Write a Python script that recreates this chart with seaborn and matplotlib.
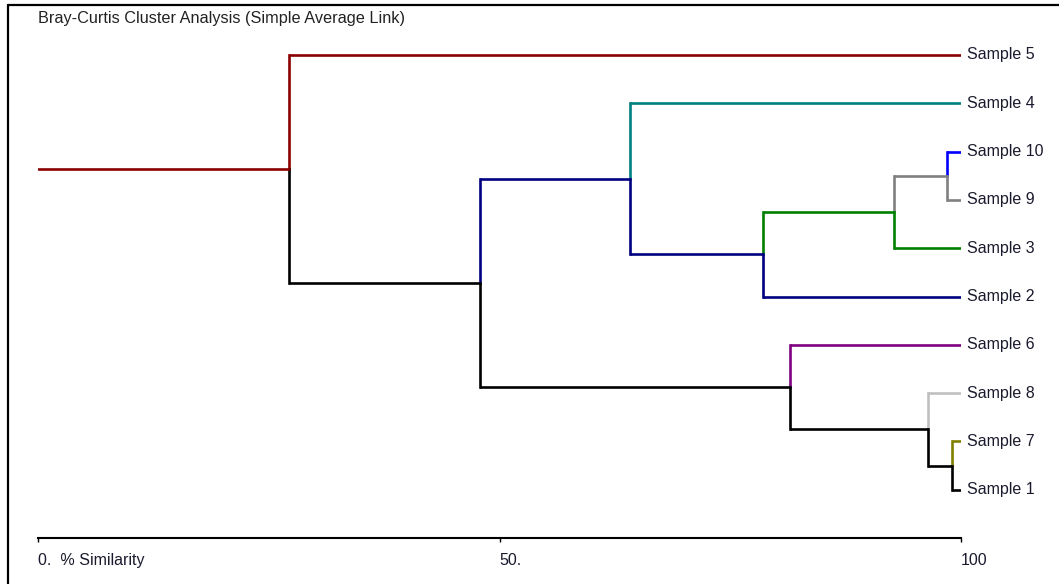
import matplotlib.pyplot as plt
from matplotlib.lines import Line2D
import seaborn as sns

# leaves, top to bottom
leaves = ['Sample 5', 'Sample 4', 'Sample 10', 'Sample 9', 'Sample 3',
          'Sample 2', 'Sample 6', 'Sample 8', 'Sample 7', 'Sample 1']
leaf_colors = ['#8b0000', '#008080', '#0000ff', '#808080', '#008000',
               '#000080', '#800080', '#c0c0c0', '#808000', '#000000']

# merges (ids 0-9 are leaves, new nodes numbered from 10 on)
merge_a = [2, 10, 11, 1, 8, 7, 6, 13, 0]
merge_b = [3, 4, 5, 12, 9, 14, 15, 16, 17]
merge_sim = [98.5, 92.7, 78.5, 64.1, 99.0, 96.4, 81.5, 47.9, 27.2]

root_color = '#8b0000'

sns.set_theme(style='white')
plt.rcParams['font.family'] = ['Liberation Sans', 'DejaVu Sans']

fig = plt.figure(figsize=(10.59, 5.84), dpi=100)
ax = fig.add_axes([38 / 1059, 1 - 538 / 584, 923 / 1059, (538 - 6.7) / 584])

ypos = {i: float(i) for i in range(len(leaves))}
xpos = {i: 100.0 for i in range(len(leaves))}
color = {i: c for i, c in enumerate(leaf_colors)}

lw = 1.9
for k, (a, b, s) in enumerate(zip(merge_a, merge_b, merge_sim)):
    node = len(leaves) + k
    ym = (ypos[a] + ypos[b]) / 2
    # horizontal branches of the children
    ax.plot([s, xpos[a]], [ypos[a], ypos[a]], color=color[a], lw=lw, solid_capstyle='butt')
    ax.plot([s, xpos[b]], [ypos[b], ypos[b]], color=color[b], lw=lw, solid_capstyle='butt')
    # vertical, split at the node
    ax.plot([s, s], [ypos[a], ym], color=color[a], lw=lw, solid_capstyle='projecting')
    ax.plot([s, s], [ym, ypos[b]], color=color[b], lw=lw, solid_capstyle='projecting')
    ypos[node], xpos[node], color[node] = ym, s, color[b]

root = len(leaves) + len(merge_sim) - 1
ax.plot([0, xpos[root]], [ypos[root], ypos[root]], color=root_color, lw=lw)

for i, name in enumerate(leaves):
    ax.text(100.6, i, name, va='center', ha='left', fontsize=11.5,
            color='#1a1a2e', clip_on=False)

ax.set_xlim(0, 100)
ax.set_ylim(10, -1)
ax.set_yticks([])
for side in ['left', 'right', 'top']:
    ax.spines[side].set_visible(False)
ax.spines['bottom'].set_color('black')
ax.spines['bottom'].set_linewidth(1.5)
ax.set_xticks([0, 50, 100])
ax.set_xticklabels(['0.  % Similarity', '50.', '100'], ha='left',
                   family=['Liberation Sans Narrow', 'Liberation Sans'],
                   fontsize=11.5, color='#1a1a2e')
ax.tick_params(axis='x', direction='out', length=3, width=1, color='black',
               pad=8, bottom=True)

fig.text(38 / 1059, 1 - 19 / 584, 'Bray-Curtis Cluster Analysis (Simple Average Link)',
         ha='left', va='center', fontsize=11.7, color='#222222')

# window frame on the left and top
fig.add_artist(Line2D([8 / 1059, 8 / 1059], [0, 1 - 5 / 584], color='black', lw=1.6,
                      transform=fig.transFigure))
fig.add_artist(Line2D([8 / 1059, 1], [1 - 5 / 584, 1 - 5 / 584], color='black', lw=1.6,
                      transform=fig.transFigure))

fig.savefig('out.png', dpi=100, facecolor='white')
